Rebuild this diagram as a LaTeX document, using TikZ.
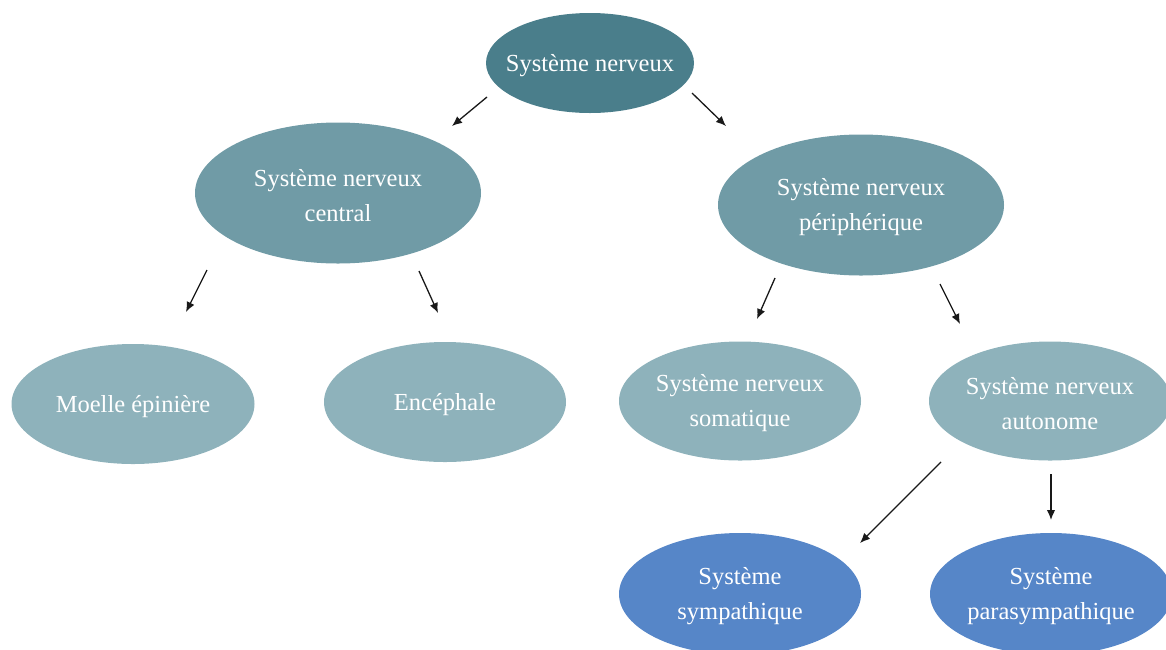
\documentclass[tikz,border=0pt]{standalone}
\usepackage{fontspec}
\setmainfont{Liberation Serif}
\usetikzlibrary{shapes.geometric,arrows.meta}
\definecolor{cTop}{RGB}{74,126,139}
\definecolor{cMid}{RGB}{112,155,166}
\definecolor{cLow}{RGB}{142,178,187}
\definecolor{cBlue}{RGB}{86,134,200}
\begin{document}
\begin{tikzpicture}[x=1pt,y=-1pt,
  bubble/.style={ellipse, inner sep=0pt, draw=none},
  lbl/.style={text=white, font=\fontsize{24.5}{35}\selectfont, align=center, inner sep=0pt, yshift=-2.5pt},
  conn/.style={line width=1.3pt, draw=black!90, -{Latex[length=10pt,width=8.5pt]}}]
\useasboundingbox (0,0) rectangle (1166,649);
% nodes
\node[bubble, fill=cTop, minimum width=208, minimum height=100,
  label={[lbl]center:Système nerveux}] (sn) at (590,63) {};
\node[bubble, fill=cMid, minimum width=286, minimum height=141,
  label={[lbl]center:{Système nerveux\\central}}] (snc) at (338,193) {};
\node[bubble, fill=cMid, minimum width=286, minimum height=141,
  label={[lbl]center:{Système nerveux\\périphérique}}] (snp) at (861,205) {};
\node[bubble, fill=cLow, minimum width=243, minimum height=120,
  label={[lbl]center:Moelle épinière}] (me) at (133,404) {};
\node[bubble, fill=cLow, minimum width=242, minimum height=120,
  label={[lbl]center:Encéphale}] (enc) at (445,402) {};
\node[bubble, fill=cLow, minimum width=242, minimum height=119,
  label={[lbl]center:{Système nerveux\\somatique}}] (sns) at (740,401) {};
\node[bubble, fill=cLow, minimum width=242, minimum height=119,
  label={[lbl]center:{Système nerveux\\autonome}}] (sna) at (1050,401) {};
\node[bubble, fill=cBlue, minimum width=242, minimum height=122,
  label={[lbl]center:{Système\\sympathique}}] (ss) at (740,594) {};
\node[bubble, fill=cBlue, minimum width=242, minimum height=122,
  label={[lbl]center:{Système\\parasympathique}}] (sp) at (1051,594) {};
% connector end points
\coordinate (c1s) at (487,97);   \coordinate (c1e) at (452,126);
\coordinate (c2s) at (692,93);   \coordinate (c2e) at (726,126);
\coordinate (c3s) at (207,270);  \coordinate (c3e) at (186,312);
\coordinate (c4s) at (419,271);  \coordinate (c4e) at (438,313);
\coordinate (c5s) at (775,278);  \coordinate (c5e) at (757,319);
\coordinate (c6s) at (940,284);  \coordinate (c6e) at (960,324);
\coordinate (c7s) at (941,462);  \coordinate (c7e) at (860,543);
\coordinate (c8s) at (1051,474); \coordinate (c8e) at (1051,520);
% connectors
\draw[conn] (c1s) -- (c1e);
\draw[conn] (c2s) -- (c2e);
\draw[conn] (c3s) -- (c3e);
\draw[conn] (c4s) -- (c4e);
\draw[conn] (c5s) -- (c5e);
\draw[conn] (c6s) -- (c6e);
\draw[conn] (c7s) -- (c7e);
\draw[conn] (c8s) -- (c8e);
\end{tikzpicture}
\end{document}
